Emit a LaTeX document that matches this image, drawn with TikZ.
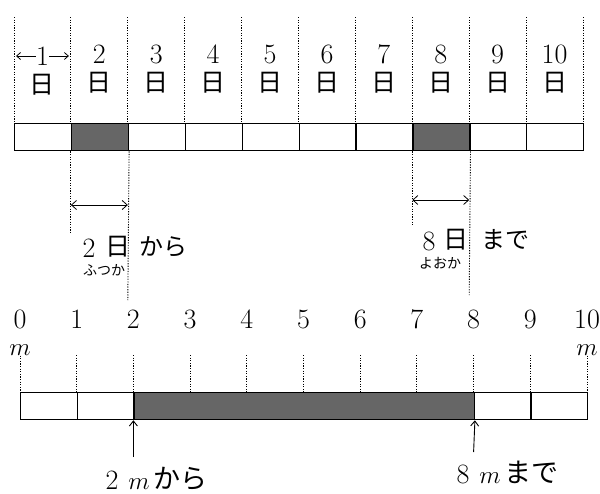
\documentclass[tikz,border=0pt]{standalone}
\usepackage{fontspec}
\newfontfamily\jp{Noto Sans CJK JP}
\usetikzlibrary{arrows.meta}
\begin{document}
\begin{tikzpicture}[x=1pt,y=-1pt,
  cell/.style={draw=black,line width=1.3pt,fill=white},
  shaded/.style={draw=black,line width=1.3pt,fill=black!60},
  guide/.style={line width=0.9pt,dash pattern=on 1.2pt off 1.4pt},
  num/.style={inner sep=0pt,font=\fontsize{28}{30}\selectfont},
  day/.style={inner sep=0pt,font=\jp\fontsize{25}{28}\selectfont},
  lab/.style={inner sep=0pt,font=\jp\fontsize{24}{26}\selectfont},
  blab/.style={inner sep=0pt,font=\jp\fontsize{27}{29}\selectfont},
  ruby/.style={inner sep=0pt,font=\jp\fontsize{14}{15}\selectfont},
  unit/.style={inner sep=0pt,font=\fontsize{27}{29}\selectfont},
  dimarrow/.style={line width=0.8pt,{Straight Barb[length=5pt,width=9pt]}-{Straight Barb[length=5pt,width=9pt]}},
  uparrow/.style={line width=0.9pt,-{Straight Barb[length=5pt,width=8pt]}}]
\useasboundingbox[fill=white] (0,0) rectangle (600,493);

% ---------- top bar (days) ----------
\foreach \i in {0,...,10} {
  \coordinate (T\i) at ({14+56.9*\i},123);
  \coordinate (Tt\i) at ({14+56.9*\i},17);
}
\foreach \i in {0,...,9} {
  \ifnum\i=1
    \node[shaded,minimum width=56.9pt,minimum height=27pt,anchor=north west,inner sep=0pt] (tc\i) at (T\i) {};
  \else\ifnum\i=7
    \node[shaded,minimum width=56.9pt,minimum height=27pt,anchor=north west,inner sep=0pt] (tc\i) at (T\i) {};
  \else
    \node[cell,minimum width=56.9pt,minimum height=27pt,anchor=north west,inner sep=0pt] (tc\i) at (T\i) {};
  \fi\fi
}
% guide lines
\foreach \i in {0,...,10} \draw[guide] (Tt\i) -- (T\i);
\coordinate (B1) at ({14+56.9*1},233);
\coordinate (B2) at ({14+56.9*2},300);
\coordinate (B7) at ({14+56.9*7},225);
\coordinate (B8) at ({14+56.9*8},295);
\draw[guide] (tc1.south west) -- (B1);
\draw[guide] (tc1.south east) -- (B2);
\draw[guide] (tc7.south west) -- (B7);
\draw[guide] (tc7.south east) -- (B8);

% day labels
\node[num] (n1) at ({14+56.9*0.5},56) {1};
\coordinate (a1l) at ({14+2},56);
\coordinate (a1r) at ({14+56.9-2},56);
\draw[line width=0.8pt,-{Straight Barb[length=4pt,width=7pt]}] (n1.west) -- (a1l);
\draw[line width=0.8pt,-{Straight Barb[length=4pt,width=7pt]}] (n1.east) -- (a1r);
\node[day] (d1) at ({14+56.9*0.5},85) {日};
\foreach \i in {2,...,10} {
  \node[num] (n\i) at ({14+56.9*(\i-0.5)},54) {\i};
  \node[day] (d\i) at ({14+56.9*(\i-0.5)},83) {日};
}

% dimension arrows
\coordinate (da1) at ({14+56.9*1},205);
\coordinate (da2) at ({14+56.9*2},205);
\coordinate (db1) at ({14+56.9*7},200);
\coordinate (db2) at ({14+56.9*8},200);
\draw[dimarrow] (da1) -- (da2);
\draw[dimarrow] (db1) -- (db2);

% labels under top bar
\node[num,anchor=base] (f2) at (89,257) {2};
\node[day,anchor=base] (f2d) at (118,255) {日};
\node[ruby] (f2r) at (104,270) {ふつか};
\node[lab,anchor=base west] (f2k) at (139,255) {から};

\node[num,anchor=base] (f8) at (429,250) {8};
\node[day,anchor=base] (f8d) at (456,248) {日};
\node[ruby] (f8r) at (440,263) {よおか};
\node[lab,anchor=base west] (f8m) at (481,248) {まで};

% ---------- bottom bar (meters) ----------
\foreach \i in {0,...,10} {
  \coordinate (M\i) at ({20+56.7*\i},392);
}
\foreach \i in {0,1,8,9} {
  \node[cell,minimum width=56.7pt,minimum height=27pt,anchor=north west,inner sep=0pt] (mc\i) at (M\i) {};
}
\node[shaded,minimum width={56.7pt*6},minimum height=27pt,anchor=north west,inner sep=0pt] (mshade) at (M2) {};

\foreach \i in {0,...,10} {
  \node[num] (mn\i) at ({20+56.7*\i},319) {\i};
}
\node[unit] (mu0) at (M0 |- 0,350) {$m$};
\node[unit] (mu10) at (M10 |- 0,350) {$m$};
\draw[guide] (mu0.south) -- (M0);
\draw[guide] (mu10.south) -- (M10);
\foreach \i in {1,...,9} {
  \coordinate (Mt\i) at ({20+56.7*\i},355);
  \draw[guide] (Mt\i) -- (M\i);
}

% up arrows
\coordinate (u2) at ({20+56.7*2},457);
\coordinate (u8) at ({20+56.7*8},452);
\draw[uparrow] (u2) -- (mshade.south west);
\draw[uparrow] (u8) -- (mshade.south east);

\node[num,anchor=base] (g2) at (112,489) {2};
\node[unit,anchor=base] (g2m) at (139,489) {$m$};
\node[blab,anchor=base west] (g2k) at (153,488) {から};
\node[num,anchor=base] (g8) at (463,483) {8};
\node[unit,anchor=base] (g8m) at (490,483) {$m$};
\node[blab,anchor=base west] (g8k) at (504,482) {まで};
\end{tikzpicture}
\end{document}
